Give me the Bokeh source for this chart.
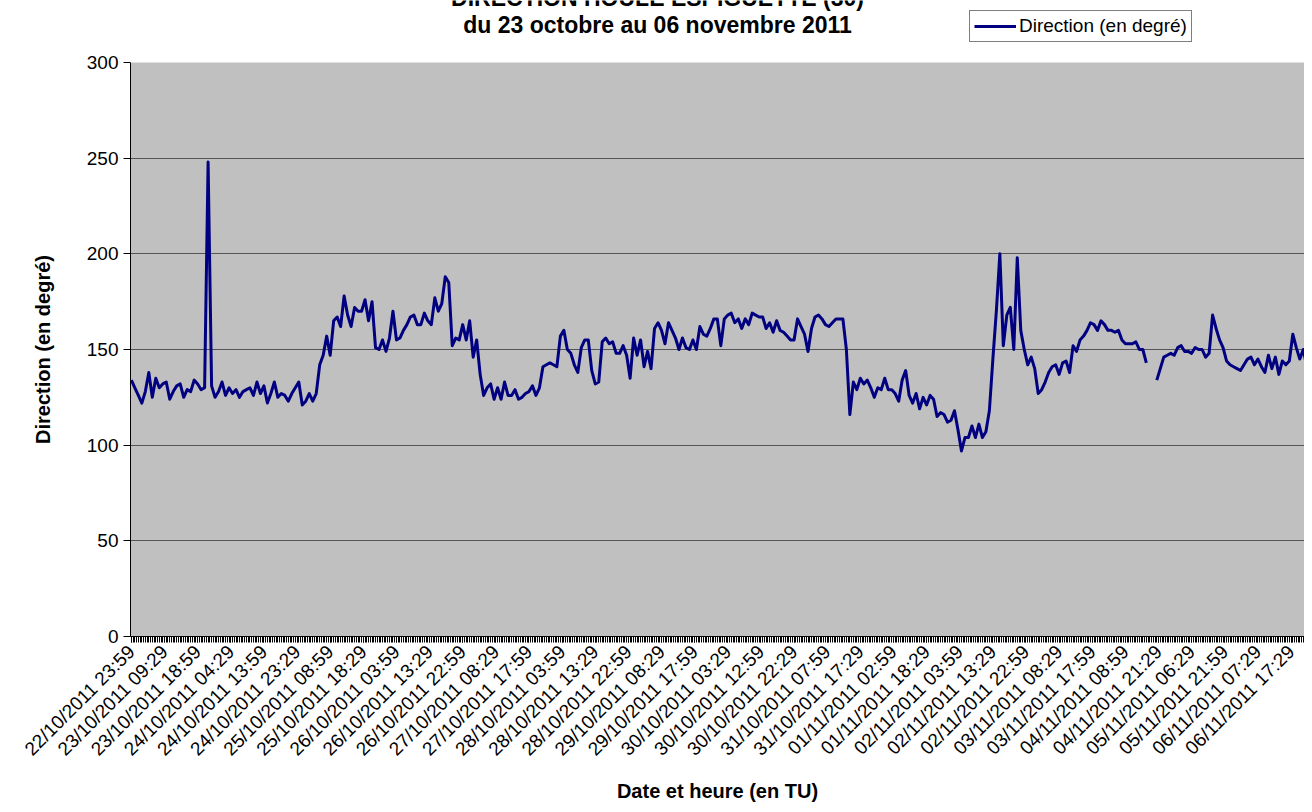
import math
from bokeh.plotting import figure
from bokeh.layouts import column
from bokeh.models import Range1d, FixedTicker, Legend, LegendItem, Label
from bokeh.embed import file_html
from bokeh.resources import INLINE

# Hourly readings of the wave direction (degrees); None = missing record
direction = [
    134, 130, 126, 122, 128, 138, 125, 135, 130, 132,
    133, 124, 128, 131, 132, 125, 129, 128, 134, 132,
    129, 130, 248, 131, 125, 128, 133, 126, 130, 127,
    129, 125, 128, 129, 130, 126, 133, 127, 131, 122,
    127, 133, 125, 127, 126, 123, 127, 130, 133, 121,
    123, 127, 123, 127, 142, 147, 157, 147, 165, 167,
    162, 178, 168, 162, 172, 170, 170, 176, 165, 175,
    151, 150, 155, 149, 156, 170, 155, 156, 160, 163,
    167, 168, 163, 163, 169, 165, 163, 177, 170, 174,
    188, 185, 152, 156, 155, 163, 155, 165, 146, 155,
    137, 126, 130, 132, 124, 130, 124, 133, 126, 126,
    129, 124, 125, 127, 128, 131, 126, 130, 141, 142,
    143, 142, 141, 157, 160, 150, 148, 142, 138, 151,
    155, 155, 139, 132, 133, 154, 156, 153, 154, 148,
    148, 152, 147, 135, 156, 147, 155, 141, 149, 140,
    161, 164, 160, 153, 164, 160, 156, 150, 156, 151,
    150, 155, 150, 162, 158, 157, 161, 166, 166, 152,
    166, 168, 169, 164, 166, 161, 166, 163, 169, 168,
    167, 167, 161, 164, 159, 165, 160, 159, 157, 155,
    155, 166, 162, 158, 149, 161, 167, 168, 166, 163,
    162, 164, 166, 166, 166, 150, 116, 133, 129, 135,
    132, 134, 130, 125, 130, 129, 135, 129, 129, 127,
    123, 134, 139, 126, 122, 127, 119, 125, 121, 126,
    124, 115, 117, 116, 112, 113, 118, 108, 97, 104,
    104, 110, 104, 111, 104, 107, 118, 145, 170, 200,
    152, 168, 172, 150, 198, 160, 150, 142, 146, 140,
    127, 129, 133, 138, 141, 142, 137, 143, 144, 138,
    152, 149, 155, 157, 160, 164, 163, 160, 165, 163,
    160, 160, 159, 160, 155, 153, 153, 153, 154, 150,
    150, 143, None, None, 134, 140, 146, 147, 148, 147,
    151, 152, 149, 149, 148, 151, 150, 150, 146, 148,
    168, 161, 155, 151, 144, 142, 141, 140, 139, 142,
    145, 146, 142, 145, 141, 138, 147, 140, 146, 137,
    144, 142, 144, 158, 151, 145, 150, 141, 148, 135,
]

tick_labels = [
    "22/10/2011 23:59", "23/10/2011 09:29", "23/10/2011 18:59", "24/10/2011 04:29",
    "24/10/2011 13:59", "24/10/2011 23:29", "25/10/2011 08:59", "25/10/2011 18:29",
    "26/10/2011 03:59", "26/10/2011 13:29", "26/10/2011 22:59", "27/10/2011 08:29",
    "27/10/2011 17:59", "28/10/2011 03:59", "28/10/2011 13:29", "28/10/2011 22:59",
    "29/10/2011 08:29", "29/10/2011 17:59", "30/10/2011 03:29", "30/10/2011 12:59",
    "30/10/2011 22:29", "31/10/2011 07:59", "31/10/2011 17:29", "01/11/2011 02:59",
    "01/11/2011 18:29", "02/11/2011 03:59", "02/11/2011 13:29", "02/11/2011 22:59",
    "03/11/2011 08:29", "03/11/2011 17:59", "04/11/2011 08:59", "04/11/2011 21:29",
    "05/11/2011 06:29", "05/11/2011 21:59", "06/11/2011 07:29", "06/11/2011 17:29",
]

y_ticks = [0, 50, 100, 150, 200, 250, 300]

TITLE_1 = "DIRECTION HOULE ESPIGUETTE (30)"
TITLE_2 = "du 23 octobre au 06 novembre 2011"
SERIES_NAME = "Direction (en degré)"
X_TITLE = "Date et heure (en TU)"
Y_TITLE = "Direction (en degré)"

LABEL_STEP = 19   # categories between two labels
POINT_STEP = 2    # categories per listed reading
N_CATEGORIES = 679

xs = [i * POINT_STEP for i in range(len(direction))]
ys = [float("nan") if v is None else v for v in direction]
label_pos = [i * LABEL_STEP for i in range(len(tick_labels))]

FONT = "Liberation Sans"
NAVY = "#000080"
W = 1304
HEAD_H = 48
FRAME_LEFT = 130   # the column aligns the header's frame with the chart's frame

# ---------- header: titles and legend ----------
head = figure(width=W, height=HEAD_H, output_backend="svg", toolbar_location=None,
              title=None, x_axis_type=None, y_axis_type=None,
              x_range=Range1d(0, W), y_range=Range1d(0, HEAD_H),
              min_border=0, outline_line_color=None,
              background_fill_color="white", border_fill_color="white")
head.grid.visible = False

head.add_layout(Label(x=657 - FRAME_LEFT, y=51, x_units="screen", y_units="screen",
                      text=TITLE_1, text_font=FONT, text_font_style="bold",
                      text_font_size="23px", text_align="center",
                      text_baseline="alphabetic", text_color="black"))
head.add_layout(Label(x=657 - FRAME_LEFT, y=24, x_units="screen", y_units="screen",
                      text=TITLE_2, text_font=FONT, text_font_style="bold",
                      text_font_size="23px", text_align="center",
                      text_baseline="alphabetic", text_color="black"))

# legend key: a line renderer with no drawable point, used only for its style
key = head.line(x=[float("nan")], y=[float("nan")], line_color=NAVY, line_width=3)
legend = Legend(items=[LegendItem(label=SERIES_NAME, renderers=[key])],
                location=(969 - FRAME_LEFT, HEAD_H - 42))
legend.border_line_color = "black"
legend.border_line_width = 1
legend.background_fill_color = "white"
legend.background_fill_alpha = 1
legend.label_text_font = FONT
legend.label_text_font_size = "19px"
legend.label_text_color = "black"
legend.glyph_width = 42
legend.glyph_height = 18
legend.label_standoff = 3
legend.padding = 4
legend.margin = 0
legend.spacing = 0
head.add_layout(legend)

# ---------- main chart ----------
p = figure(width=W, height=756, output_backend="svg", toolbar_location=None,
           title=None,
           x_range=Range1d(-0.5, 672.7), y_range=Range1d(0, 300),
           min_border_left=FRAME_LEFT, min_border_right=0, min_border_top=14,
           min_border_bottom=168,
           background_fill_color="#C0C0C0", border_fill_color="white")
p.outline_line_color = None

r = p.line(xs, ys, line_color=NAVY, line_width=3, line_join="round")

# y axis
p.yaxis.ticker = FixedTicker(ticks=y_ticks)
p.yaxis.major_label_text_font = FONT
p.yaxis.major_label_text_font_size = "19px"
p.yaxis.major_label_text_color = "black"
p.yaxis.axis_line_color = "black"
p.yaxis.major_tick_line_color = "black"
p.yaxis.major_tick_out = 7
p.yaxis.major_tick_in = 0
p.yaxis.minor_tick_out = 0
p.yaxis.minor_tick_in = 0
p.yaxis.major_label_standoff = 5
p.yaxis.axis_label = Y_TITLE
p.yaxis.axis_label_text_font = FONT
p.yaxis.axis_label_text_font_style = "bold"
p.yaxis.axis_label_text_font_size = "20px"
p.yaxis.axis_label_text_color = "black"
p.yaxis.axis_label_standoff = 30

# x axis
p.xaxis.ticker = FixedTicker(ticks=label_pos, minor_ticks=list(range(N_CATEGORIES)))
p.xaxis.major_label_overrides = {pos: lab for pos, lab in zip(label_pos, tick_labels)}
p.xaxis.major_label_orientation = math.pi / 4
p.xaxis.major_label_text_font = FONT
p.xaxis.major_label_text_font_size = "19px"
p.xaxis.major_label_text_color = "black"
p.xaxis.axis_line_color = "black"
p.xaxis.major_tick_line_color = "black"
p.xaxis.minor_tick_line_color = "black"
p.xaxis.major_tick_out = 6
p.xaxis.major_tick_in = 0
p.xaxis.minor_tick_out = 6
p.xaxis.minor_tick_in = 0
p.xaxis.major_label_standoff = 6
p.xaxis.axis_label = X_TITLE
p.xaxis.axis_label_text_font = FONT
p.xaxis.axis_label_text_font_style = "bold"
p.xaxis.axis_label_text_font_size = "20px"
p.xaxis.axis_label_text_color = "black"
p.xaxis.axis_label_standoff = 10

p.xgrid.visible = False
p.ygrid.grid_line_color = "#555555"
p.ygrid.grid_line_width = 1

layout = column(head, p, spacing=0)
open("out.html", "w").write(file_html(layout, INLINE))
